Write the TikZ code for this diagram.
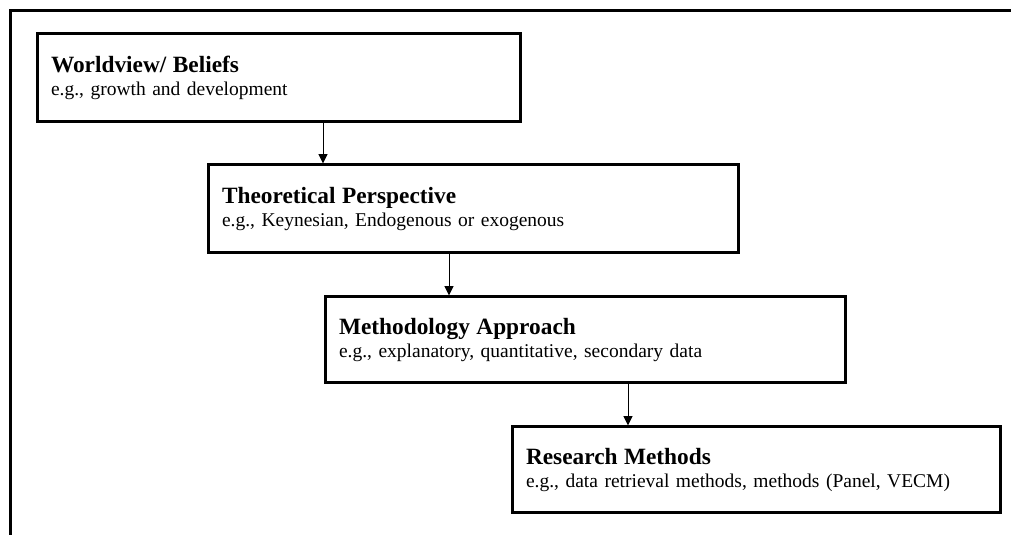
\documentclass[tikz,border=0pt]{standalone}
\usepackage{fontspec}
\setmainfont{Liberation Serif}
\usetikzlibrary{arrows.meta}
\tikzset{
  stage/.style = {rectangle, draw, line width=1.8pt, align=left, inner xsep=8.4pt,
    font=\fontsize{11.7}{13.8}\selectfont},
  link/.style = {line width=0.6pt, -{Triangle[length=5.6pt, width=5.4pt]}},
  frame/.style = {line width=1.3pt}
}
\newcommand{\stagehead}[1]{{\fontsize{14}{15}\selectfont\bfseries #1}}

\begin{document}
\begin{tikzpicture}[x=0.6pt, y=-0.6pt]

\useasboundingbox (0,0) rectangle (1011,535);
\draw[frame] (10.5,535) -- (10.5,10.5) -- (1011,10.5);

\node[stage, text width=273pt, minimum height=52.8pt] (world) at (278.5,78)
  {\stagehead{Worldview/ Beliefs}\\ e.g., growth and development};
\node[stage, text width=301.2pt, minimum height=52.8pt] (theory) at (473,209)
  {\stagehead{Theoretical Perspective}\\ e.g., Keynesian, Endogenous or exogenous};
\node[stage, text width=295.2pt, minimum height=51.6pt] (method) at (585,340)
  {\stagehead{Methodology Approach}\\ e.g., explanatory, quantitative, secondary data};
\node[stage, text width=276pt, minimum height=51.6pt] (research) at (756,470)
  {\stagehead{Research Methods}\\ e.g., data retrieval methods, methods (Panel, VECM)};

% arrows sit off centre
\coordinate (k1) at (323,0);
\coordinate (k2) at (449,0);
\coordinate (k3) at (628,0);

\draw[link] (world.south -| k1)  -- (theory.north -| k1);
\draw[link] (theory.south -| k2) -- (method.north -| k2);
\draw[link] (method.south -| k3) -- (research.north -| k3);

\end{tikzpicture}
\end{document}
